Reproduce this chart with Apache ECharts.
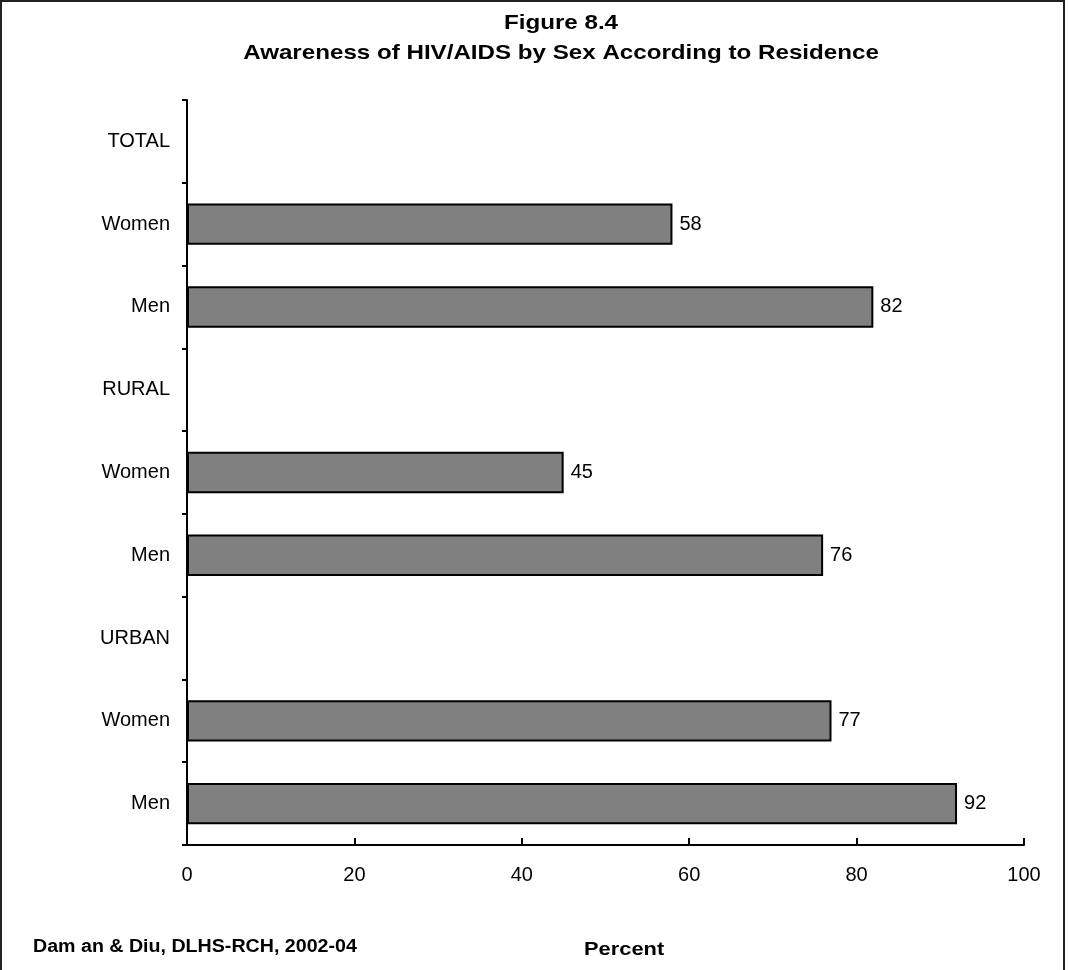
<!DOCTYPE html>
<html>
<head>
<meta charset="utf-8">
<script src="https://cdn.jsdelivr.net/npm/echarts@6/dist/echarts.min.js"></script>
<style>
html,body{margin:0;padding:0;background:#fff;}
#chart{width:1069px;height:970px;}
</style>
</head>
<body>
<div id="chart"></div>
<script>
const categories = ['TOTAL', 'Women', 'Men', 'RURAL', 'Women', 'Men', 'URBAN', 'Women', 'Men'];
const values = [null, 58, 82, null, 45, 76, null, 77, 92];
const xTicks = { min: 0, max: 100, interval: 20 };
const titleText = 'Figure 8.4';
const subtitleText = 'Awareness of HIV/AIDS by Sex According to Residence';
const sourceText = 'Dam an & Diu, DLHS-RCH, 2002-04';
const xAxisName = 'Percent';

const FONT = 'Arial, "Liberation Sans", sans-serif';
const chart = echarts.init(document.getElementById('chart'), null, { renderer: 'canvas' });
chart.setOption({
  animation: false,
  backgroundColor: '#fff',
  graphic: [
    { type: 'rect', shape: { x: 1, y: 1, width: 1063, height: 1000 },
      style: { fill: 'none', stroke: '#222', lineWidth: 2 }, silent: true },
    { type: 'text', x: 561, y: 13, scaleX: 1.15, scaleY: 1,
      style: { text: titleText, font: 'bold 21px ' + FONT, fill: '#000', textAlign: 'center', textVerticalAlign: 'top' } },
    { type: 'text', x: 561, y: 43, scaleX: 1.15, scaleY: 1,
      style: { text: subtitleText, font: 'bold 21px ' + FONT, fill: '#000', textAlign: 'center', textVerticalAlign: 'top' } },
    { type: 'text', x: 33, y: 938, scaleX: 1.09, scaleY: 1,
      style: { text: sourceText, font: 'bold 18px ' + FONT, fill: '#000', textAlign: 'left', textVerticalAlign: 'top' } },
    { type: 'text', x: 584, y: 940, scaleX: 1.15, scaleY: 1,
      style: { text: xAxisName, font: 'bold 19px ' + FONT, fill: '#000', textAlign: 'left', textVerticalAlign: 'top' } }
  ],
  grid: { left: 187, top: 100, right: 45, bottom: 125, containLabel: false },
  xAxis: {
    type: 'value', min: xTicks.min, max: xTicks.max, interval: xTicks.interval,
    axisLine: { show: true, lineStyle: { color: '#000', width: 2 } },
    axisTick: { show: true, inside: true, length: 7, lineStyle: { color: '#000', width: 2 } },
    axisLabel: { margin: 20, fontFamily: FONT, fontSize: 20, color: '#000' },
    splitLine: { show: false }
  },
  yAxis: {
    type: 'category', inverse: true, data: categories,
    axisLine: { show: true, lineStyle: { color: '#000', width: 2 } },
    axisTick: { show: true, alignWithLabel: false, length: 5, lineStyle: { color: '#000', width: 2 } },
    axisLabel: { margin: 17, fontFamily: FONT, fontSize: 20, color: '#000' },
    splitLine: { show: false }
  },
  series: [{
    type: 'bar', data: values, barWidth: '50%',
    itemStyle: { color: '#808080', borderColor: '#000', borderWidth: 2 },
    label: { show: true, position: 'right', distance: 7, fontFamily: FONT, fontSize: 20, color: '#000' }
  }]
});
</script>
</body>
</html>
